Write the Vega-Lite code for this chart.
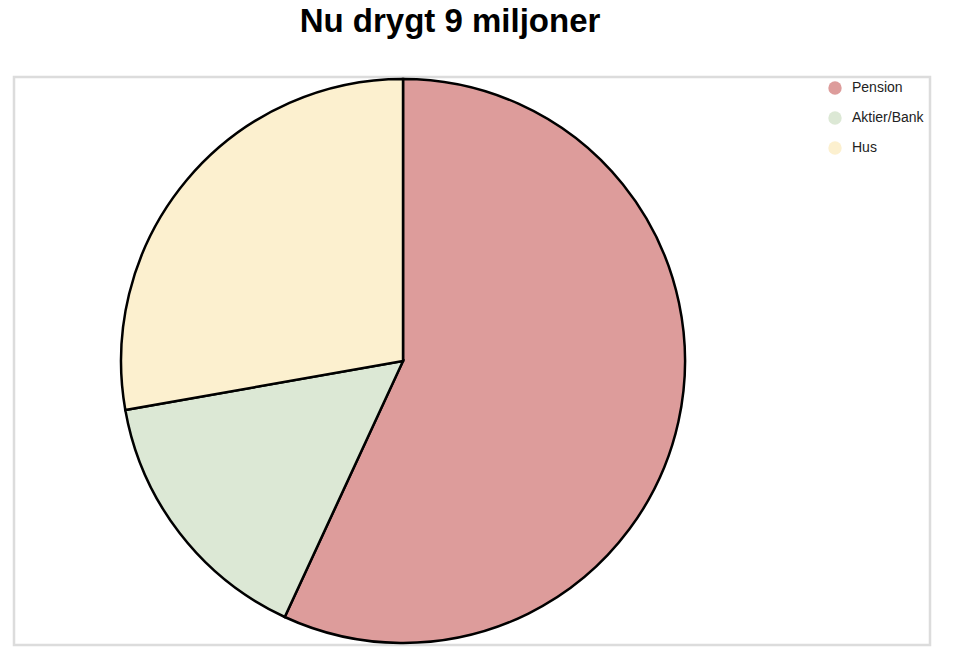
{
  "$schema": "https://vega.github.io/schema/vega-lite/v6.json",
  "width": 916,
  "height": 568,
  "autosize": {"type": "none"},
  "padding": {"left": 14, "top": 77, "right": 38, "bottom": 9},
  "background": "white",
  "title": {
    "text": "Nu drygt 9 miljoner",
    "font": "Liberation Sans",
    "fontSize": 33,
    "fontWeight": "bold",
    "color": "#000000",
    "anchor": "middle",
    "baseline": "alphabetic",
    "offset": 9,
    "dx": -22
  },
  "view": {"stroke": "#dcdcdc", "strokeWidth": 2.5, "fill": "white"},
  "data": {
    "values": [
      {"kategori": "Pension", "miljoner": 5.12, "ordning": 1},
      {"kategori": "Aktier/Bank", "miljoner": 1.38, "ordning": 2},
      {"kategori": "Hus", "miljoner": 2.5, "ordning": 3}
    ]
  },
  "mark": {
    "type": "arc",
    "stroke": "#000000",
    "strokeWidth": 2.5,
    "x": {"expr": "width * 0.4247"},
    "y": {"expr": "height / 2"},
    "outerRadius": {"expr": "height / 2 - 2"}
  },
  "encoding": {
    "theta": {"field": "miljoner", "type": "quantitative", "stack": true},
    "order": {"field": "ordning", "type": "quantitative", "sort": "ascending"},
    "color": {
      "field": "kategori",
      "type": "nominal",
      "sort": ["Pension", "Aktier/Bank", "Hus"],
      "scale": {
        "domain": ["Pension", "Aktier/Bank", "Hus"],
        "range": ["#dd9c9b", "#dce8d5", "#fcf0cf"]
      },
      "legend": {
        "title": null,
        "orient": "none",
        "legendX": 814,
        "legendY": 4,
        "padding": 0,
        "symbolType": "circle",
        "symbolSize": 180,
        "symbolStrokeWidth": 0,
        "labelFont": "Liberation Sans",
        "labelFontSize": 14,
        "labelColor": "#222222",
        "labelOffset": 10,
        "rowPadding": 16
      }
    }
  }
}
